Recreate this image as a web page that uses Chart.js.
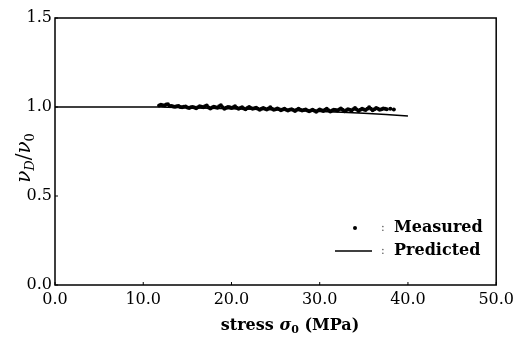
<!DOCTYPE html>
<html>
<head>
<meta charset="utf-8">
<script src="https://cdn.jsdelivr.net/npm/chart.js@4.4.0/dist/chart.umd.min.js"></script>
<style>
  html, body { margin: 0; padding: 0; background: #fff; }
  #wrap { width: 519px; height: 342px; }
</style>
</head>
<body>
<div id="wrap"><canvas id="chart" width="519" height="342"></canvas></div>
<script>
// Measured points (stress in MPa, nu_D / nu_0)
const measuredX = [11.8, 12.0, 12.2, 12.4, 12.6, 12.8, 13.0, 13.2, 13.4, 13.6, 13.8, 14.0, 14.2, 14.4, 14.6, 14.8,
  15.0, 15.2, 15.4, 15.6, 15.8, 16.0, 16.2, 16.4, 16.6, 16.8, 17.0, 17.2, 17.4, 17.6, 17.8,
  18.0, 18.2, 18.4, 18.6, 18.8, 19.0, 19.2, 19.4, 19.6, 19.8,
  20.0, 20.2, 20.4, 20.6, 20.8, 21.0, 21.2, 21.4, 21.6, 21.8,
  22.0, 22.2, 22.4, 22.6, 22.8, 23.0, 23.2, 23.4, 23.6, 23.8,
  24.0, 24.2, 24.4, 24.6, 24.8, 25.0, 25.2, 25.4, 25.6, 25.8,
  26.0, 26.2, 26.4, 26.6, 26.8, 27.0, 27.2, 27.4, 27.6, 27.8,
  28.0, 28.2, 28.4, 28.6, 28.8, 29.0, 29.2, 29.4, 29.6, 29.8,
  30.0, 30.2, 30.4, 30.6, 30.8, 31.0, 31.2, 31.4, 31.6, 31.8,
  32.0, 32.2, 32.4, 32.6, 32.8, 33.0, 33.2, 33.4, 33.6, 33.8,
  34.0, 34.2, 34.4, 34.6, 34.8, 35.0, 35.2, 35.4, 35.6, 35.8,
  36.0, 36.2, 36.4, 36.6, 36.8, 37.0, 37.2, 37.4, 37.6, 38.0, 38.4];
const measuredY = [1.008, 1.012, 1.01, 1.008, 1.014, 1.015, 1.006, 1.005, 1.003, 1.002, 1.004, 1.006, 1.0, 0.998, 1.001, 1.003,
  0.997, 0.995, 0.999, 1.0, 0.997, 0.993, 0.998, 1.004, 1.001, 0.998, 1.004, 1.008, 0.997, 0.992, 0.997,
  1.002, 0.999, 0.996, 1.004, 1.01, 0.998, 0.99, 0.996, 1.0, 0.998,
  0.994, 0.999, 1.004, 0.996, 0.99, 0.994, 0.998, 0.992, 0.988, 0.995,
  1.0, 0.995, 0.99, 0.993, 0.996, 0.99, 0.985, 0.99, 0.994, 0.99,
  0.986, 0.992, 0.998, 0.99, 0.984, 0.988, 0.992, 0.987, 0.982, 0.986,
  0.99, 0.985, 0.98, 0.984, 0.988, 0.983, 0.978, 0.984, 0.99, 0.985,
  0.98, 0.983, 0.986, 0.981, 0.976, 0.98, 0.984, 0.979, 0.974, 0.98,
  0.986, 0.982, 0.978, 0.984, 0.99, 0.982, 0.975, 0.98, 0.985, 0.983,
  0.98, 0.986, 0.992, 0.984, 0.976, 0.982, 0.988, 0.984, 0.98, 0.988,
  0.995, 0.986, 0.978, 0.984, 0.99, 0.986, 0.983, 0.99, 0.998, 0.99,
  0.982, 0.988, 0.994, 0.99, 0.985, 0.988, 0.992, 0.99, 0.988, 0.99, 0.986];

// Predicted curve
const predictedX = [0, 5, 10, 12, 15, 20, 25, 30, 35, 40];
const predictedY = [1.0, 1.0, 1.0, 1.0, 0.996, 0.99, 0.984, 0.975, 0.965, 0.95];

const xTicks = [0, 10, 20, 30, 40, 50];
const yTicks = [0, 0.5, 1.0, 1.5];
const legendLabels = ["Measured", "Predicted"];

const serif = "'DejaVu Serif', serif";

const toPoints = (xs, ys) => xs.map((x, i) => ({ x: x, y: ys[i] }));

// frame, inner ticks, axis titles and legend
const framePlugin = {
  id: "frame",
  afterDraw(chart) {
    const ctx = chart.ctx;
    const a = chart.chartArea;
    const xs = chart.scales.x;
    const ys = chart.scales.y;
    ctx.save();
    ctx.strokeStyle = "#000";
    ctx.lineWidth = 1.5;
    ctx.strokeRect(a.left, a.top, a.right - a.left, a.bottom - a.top);

    // small inward ticks
    ctx.lineWidth = 1;
    xTicks.forEach((v) => {
      const px = xs.getPixelForValue(v);
      ctx.beginPath();
      ctx.moveTo(px, a.bottom);
      ctx.lineTo(px, a.bottom - 3);
      ctx.stroke();
    });
    yTicks.forEach((v) => {
      const py = ys.getPixelForValue(v);
      ctx.beginPath();
      ctx.moveTo(a.left, py);
      ctx.lineTo(a.left + 3, py);
      ctx.stroke();
    });

    ctx.fillStyle = "#000";
    ctx.textBaseline = "middle";

    // x title: stress σ0 (MPa)
    const big = "bold 16px " + serif;
    const sub = "bold 11px " + serif;
    const parts = [
      { t: "stress ", f: big, dy: 0 },
      { t: "σ", f: "bold italic 16px " + serif, dy: 0 },
      { t: "0", f: sub, dy: 4 },
      { t: " (MPa)", f: big, dy: 0 },
    ];
    let total = 0;
    parts.forEach((p) => { ctx.font = p.f; p.w = ctx.measureText(p.t).width; total += p.w; });
    let x0 = 290 - total / 2;
    ctx.textAlign = "left";
    parts.forEach((p) => { ctx.font = p.f; ctx.fillText(p.t, x0, 326 + p.dy); x0 += p.w; });

    // y title: νD/ν0 rotated
    ctx.save();
    ctx.translate(25, 158);
    ctx.rotate(-Math.PI / 2);
    const yparts = [
      { t: "ν", f: "italic 20px " + serif, dy: 0 },
      { t: "D", f: "italic 13px " + serif, dy: 6 },
      { t: "/", f: "20px " + serif, dy: 0 },
      { t: "ν", f: "italic 20px " + serif, dy: 0 },
      { t: "0", f: "13px " + serif, dy: 6 },
    ];
    total = 0;
    yparts.forEach((p) => { ctx.font = p.f; p.w = ctx.measureText(p.t).width; total += p.w; });
    x0 = -total / 2;
    yparts.forEach((p) => { ctx.font = p.f; ctx.fillText(p.t, x0, p.dy); x0 += p.w; });
    ctx.restore();

    // legend
    ctx.beginPath();
    ctx.arc(355, 228, 2, 0, Math.PI * 2);
    ctx.fill();
    ctx.lineWidth = 1.5;
    ctx.beginPath();
    ctx.moveTo(335, 251);
    ctx.lineTo(372, 251);
    ctx.stroke();
    ctx.fillStyle = "#555";
    ctx.font = "11px " + serif;
    ctx.fillText(":", 381, 228);
    ctx.fillText(":", 381, 251);
    ctx.fillStyle = "#000";
    ctx.font = "bold 16px " + serif;
    ctx.fillText(legendLabels[0], 394, 228);
    ctx.fillText(legendLabels[1], 394, 251);
    ctx.restore();
  },
};

new Chart(document.getElementById("chart"), {
  type: "scatter",
  plugins: [framePlugin],
  data: {
    datasets: [
      {
        label: legendLabels[0],
        data: toPoints(measuredX, measuredY),
        backgroundColor: "#000",
        borderColor: "#000",
        pointRadius: 2,
        borderWidth: 0,
      },
      {
        label: legendLabels[1],
        data: toPoints(predictedX, predictedY),
        showLine: true,
        borderColor: "#000",
        borderWidth: 1.5,
        pointRadius: 0,
        tension: 0.3,
      },
    ],
  },
  options: {
    responsive: false,
    animation: false,
    layout: { padding: { top: 18, right: 21, left: 0, bottom: 0 } },
    plugins: {
      legend: { display: false },
      tooltip: { enabled: false },
    },
    scales: {
      x: {
        type: "linear",
        min: 0,
        max: 50,
        afterFit: (s) => { s.height = 57; },
        afterBuildTicks: (s) => { s.ticks = xTicks.map((v) => ({ value: v })); },
        grid: { display: false, drawTicks: false },
        border: { display: false },
        ticks: {
          color: "#000",
          padding: 5,
          font: { family: serif, size: 16 },
          callback: (v) => v.toFixed(1),
          maxRotation: 0,
        },
      },
      y: {
        type: "linear",
        min: 0,
        max: 1.5,
        afterFit: (s) => { s.width = 55; },
        afterBuildTicks: (s) => { s.ticks = yTicks.map((v) => ({ value: v })); },
        grid: { display: false, drawTicks: false },
        border: { display: false },
        ticks: {
          color: "#000",
          padding: 3,
          font: { family: serif, size: 16 },
          callback: (v) => v.toFixed(1),
        },
      },
    },
  },
});
</script>
</body>
</html>
